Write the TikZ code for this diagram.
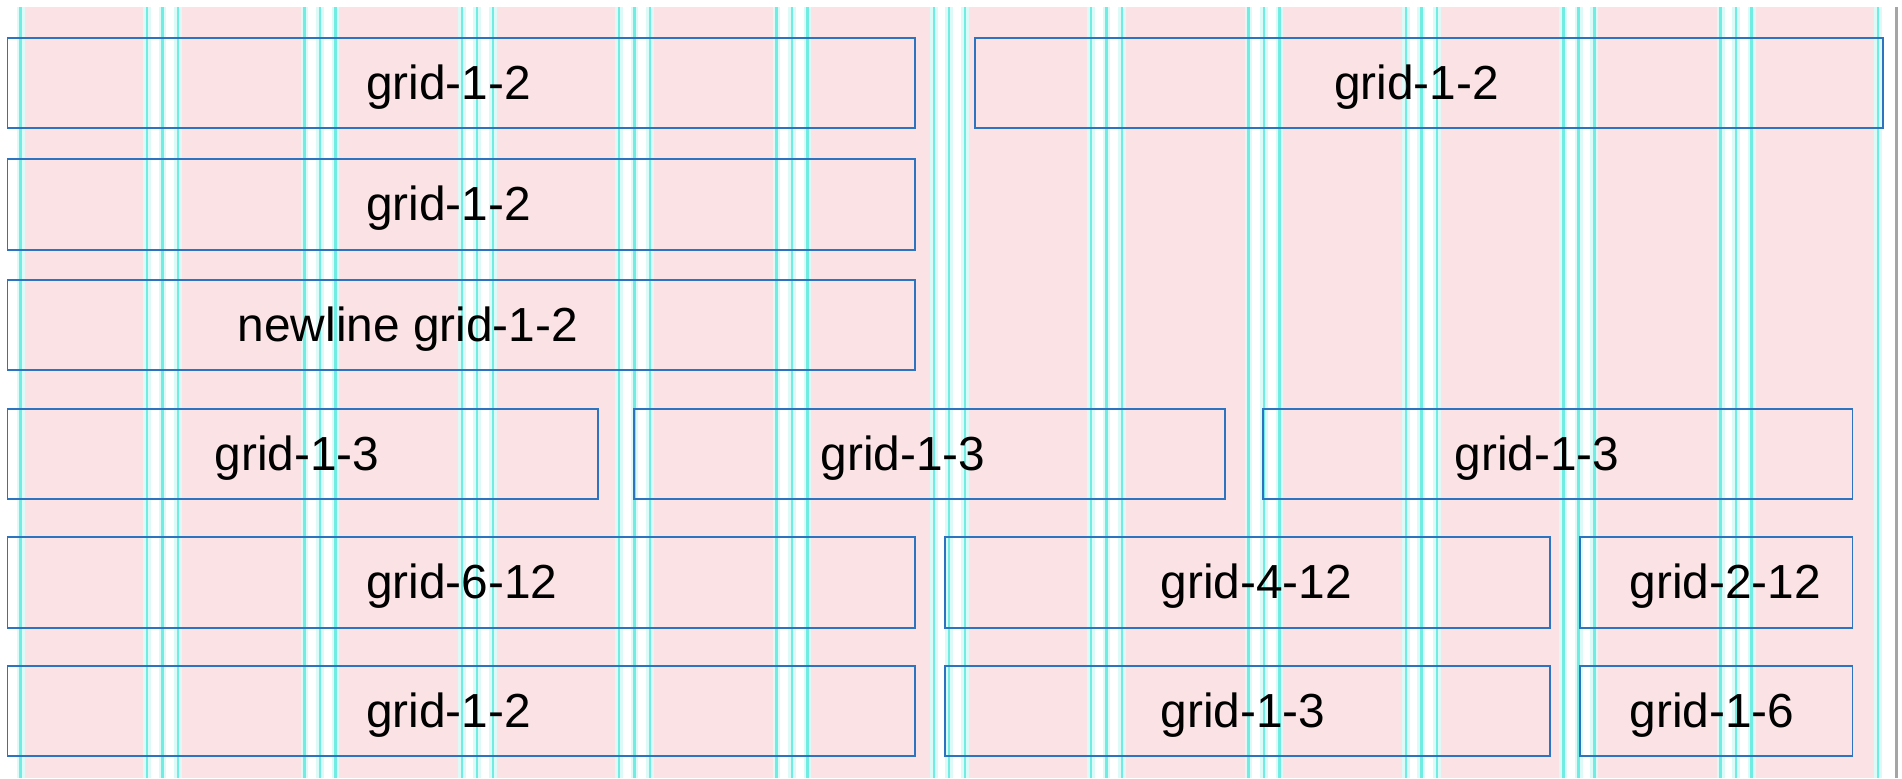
\documentclass[tikz,border=0pt]{standalone}
\usepackage{fontspec}
\setmainfont{Liberation Sans}
\usepackage{xcolor}
\usepackage{tikz}
\usetikzlibrary{calc}
\definecolor{gridPink}{RGB}{251,227,229}
\definecolor{gridCyan}{RGB}{112,236,226}
\definecolor{boxBlue}{RGB}{44,116,192}
\definecolor{barGray}{RGB}{165,165,165}
\tikzset{gridbox/.style={draw=boxBlue, line width=0.45pt}}
\tikzset{celltext/.style={anchor=base west, inner sep=0pt, font=\fontsize{13.6pt}{16pt}\selectfont}}

\begin{document}
\begin{tikzpicture}[x=0.01cm, y=-0.01cm]

  \useasboundingbox (0,0) rectangle (1902,778);
  \fill[white] (0,0) rectangle (1902,778);

  \coordinate (top) at (0,7);
  \coordinate (bot) at (0,778);

  % twelve columns, gutters between
  \foreach \k in {0,...,11} {
    \pgfmathsetmacro{\cl}{5.1+157.36*\k+15.6}
    \pgfmathsetmacro{\cr}{5.1+157.36*\k+142}
    \fill[gridPink] (\cl,7) rectangle (\cr,778);
    \draw[gridCyan!25, line width=2.2pt] (\cl,7) -- (\cl,778);
    \draw[gridCyan!25, line width=2.2pt] (\cr,7) -- (\cr,778);
    \draw[gridCyan, line width=0.7pt] (\cl,7) -- (\cl,778);
    \draw[gridCyan, line width=0.7pt] (\cr,7) -- (\cr,778);
  }
  \foreach \k in {1,...,11} {
    \pgfmathsetmacro{\cm}{5.1+157.36*\k}
    \draw[gridCyan!25, line width=2.2pt] (\cm,7) -- (\cm,778);
    \draw[gridCyan, line width=0.7pt] (\cm,7) -- (\cm,778);
  }
  \fill[barGray] (1894.5,7) rectangle (1898,778);

  % rows
  \draw[gridbox] (7.3,38) rectangle (915,128);
  \draw[gridbox] (975,38) rectangle (1883,128);

  \draw[gridbox] (7.3,159) rectangle (915,250);

  \draw[gridbox] (7.3,280) rectangle (915,370);

  \draw[gridbox] (7.3,409) rectangle (598,499);
  \draw[gridbox] (634,409) rectangle (1225,499);
  \draw[gridbox] (1263,409) rectangle (1852.5,499);

  \draw[gridbox] (7.3,537) rectangle (915,628);
  \draw[gridbox] (945,537) rectangle (1550,628);
  \draw[gridbox] (1580,537) rectangle (1852.5,628);

  \draw[gridbox] (7.3,666) rectangle (915,756);
  \draw[gridbox] (945,666) rectangle (1550,756);
  \draw[gridbox] (1580,666) rectangle (1852.5,756);

  \node[celltext] (ra1) at (365.5,99) {grid-1-2};
  \node[celltext] (ra2) at (1333.5,99) {grid-1-2};
  \node[celltext] (rb1) at (365.5,220.5) {grid-1-2};
  \node[celltext] (rc1) at (237,341) {newline grid-1-2};
  \node[celltext] (rd1) at (214,470) {grid-1-3};
  \node[celltext] (rd2) at (820,470) {grid-1-3};
  \node[celltext] (rd3) at (1454,470) {grid-1-3};
  \node[celltext] (re1) at (365.5,598.5) {grid-6-12};
  \node[celltext] (re2) at (1160,598.5) {grid-4-12};
  \node[celltext] (re3) at (1629,598.5) {grid-2-12};
  \node[celltext] (rf1) at (365.5,727) {grid-1-2};
  \node[celltext] (rf2) at (1160,727) {grid-1-3};
  \node[celltext] (rf3) at (1629,727) {grid-1-6};

  % \draw[gray] (0,0) grid[step=100] (1902,778);

\end{tikzpicture}
\end{document}
